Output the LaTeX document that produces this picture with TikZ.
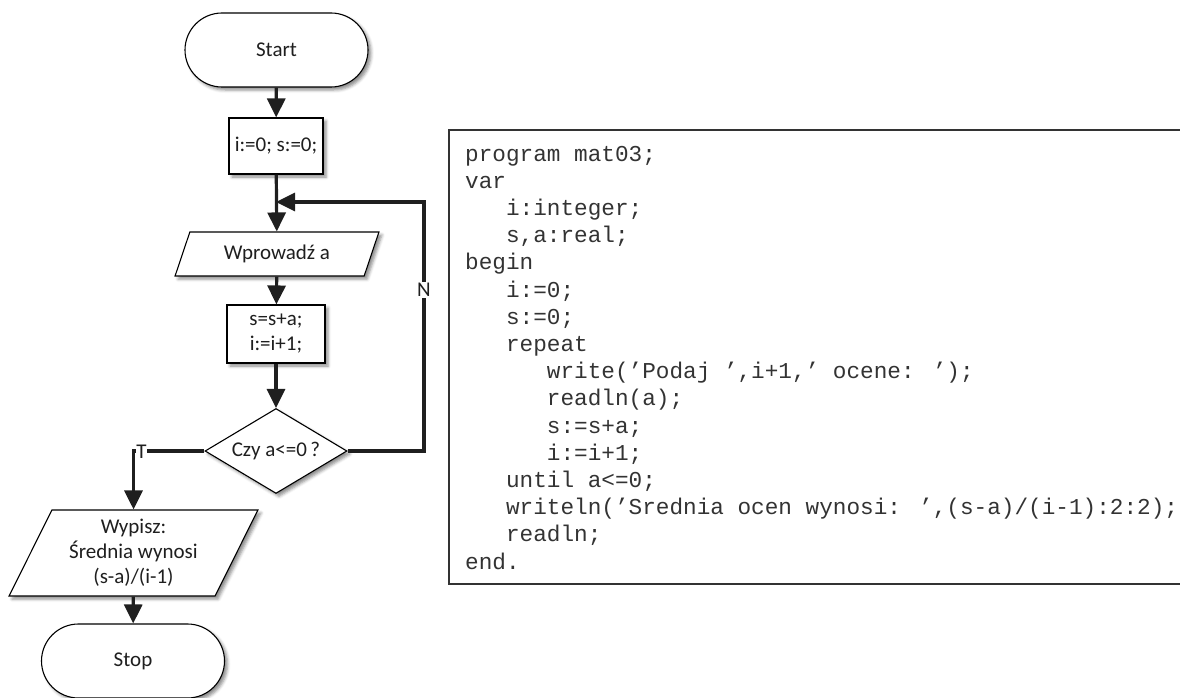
\documentclass[tikz,border=0pt]{standalone}
\usepackage{fontspec}
\setmainfont{Carlito}
\newfontfamily\codefont{Liberation Mono}
\usetikzlibrary{shapes.geometric,shapes.misc,arrows.meta,shadows.blur}

\newcommand\codeindent{\phantom{000}}

\tikzset{
  shapebase/.style={draw=black, line width=1.1pt, fill=white, text=black!88,
    font=\fontsize{21}{25}\selectfont, align=center, inner sep=0pt,
    blur shadow={shadow xshift=3pt, shadow yshift=-3pt,
                 shadow blur radius=3pt, shadow opacity=45}},
  terminal/.style={shapebase, rounded rectangle, minimum width=183pt, minimum height=74pt},
  procbox/.style={shapebase, rectangle},
  iobox/.style={shapebase, trapezium, trapezium left angle=63.4,
    trapezium right angle=116.6, trapezium stretches=true},
  decision/.style={shapebase, diamond, aspect=1.67, minimum width=142pt, minimum height=85pt},
  flow/.style={draw=black!88, line width=3.2pt, -{Triangle[length=19pt,width=18pt]}},
  lbl/.style={font=\fontsize{21}{25}\selectfont, text=black!88, fill=white, inner sep=1.5pt},
  codeline/.style={font=\codefont\fontsize{22.7}{27}\selectfont, text=black!80,
    anchor=base west, inner sep=0pt},
  frame/.style={draw=black!80, line width=1.5pt}
}

\begin{document}
\begin{tikzpicture}[x=1pt, y=-1pt]
  \useasboundingbox (0,0) rectangle (1180,698);

  % flowchart blocks
  \node[terminal] (start) at (276.5,50) {Start};
  \node[procbox, minimum width=94pt, minimum height=56pt] (init) at (276,146) {i:=0; s:=0;};
  \node[iobox, minimum width=204pt, minimum height=44pt] (inp) at (277,254) {Wprowadź a};
  \node[procbox, minimum width=98pt, minimum height=58pt] (proc) at (276,334) {s=s+a;\\i:=i+1;};
  \node[decision] (dec) at (276,451) {Czy a<=0\,?};
  \node[iobox, minimum width=249pt, minimum height=86pt] (out) at (133.5,553)
    {Wypisz:\\Średnia wynosi\\(s-a)/(i-1)};
  \node[terminal] (stop) at (133,661) {Stop};

  % junction where the loop returns
  \coordinate (join) at (init.south |- 0,202);
  \coordinate (loopc) at (424,202);

  % connectors
  \draw[flow] (start) -- (init);
  \draw[flow] (init) -- (inp);
  \draw[flow] (inp) -- (proc);
  \draw[flow] (proc) -- (dec);
  \draw[flow] (dec.east) -| (loopc) -- (join);
  \draw[flow] (dec.west) -| (out.north);
  \draw[flow] (out) -- (stop);

  % branch labels
  \node[lbl] (nlab) at (424,290) {N};
  \node[lbl, inner sep=0.8pt] (tlab) at (141.5,452) {T};

  % program listing
  \draw[frame] (1180,130) -- (449,130) -- (449,584) -- (1180,584);
  \node[codeline] (c1)  at (465,161.0) {program mat03;};
  \node[codeline] (c2)  at (465,188.2) {var};
  \node[codeline] (c3)  at (465,215.4) {\codeindent i:integer;};
  \node[codeline] (c4)  at (465,242.6) {\codeindent s,a:real;};
  \node[codeline] (c5)  at (465,269.8) {begin};
  \node[codeline] (c6)  at (465,297.0) {\codeindent i:=0;};
  \node[codeline] (c7)  at (465,324.2) {\codeindent s:=0;};
  \node[codeline] (c8)  at (465,351.4) {\codeindent repeat};
  \node[codeline] (c9)  at (465,378.6) {\codeindent\codeindent write(’Podaj ’,i+1,’ ocene: ’);};
  \node[codeline] (c10) at (465,405.8) {\codeindent\codeindent readln(a);};
  \node[codeline] (c11) at (465,433.0) {\codeindent\codeindent s:=s+a;};
  \node[codeline] (c12) at (465,460.2) {\codeindent\codeindent i:=i+1;};
  \node[codeline] (c13) at (465,487.4) {\codeindent until a<=0;};
  \node[codeline] (c14) at (465,514.6) {\codeindent writeln(’Srednia ocen wynosi: ’,(s-a)/(i-1):2:2);};
  \node[codeline] (c15) at (465,541.8) {\codeindent readln;};
  \node[codeline] (c16) at (465,569.0) {end.};
\end{tikzpicture}
\end{document}
